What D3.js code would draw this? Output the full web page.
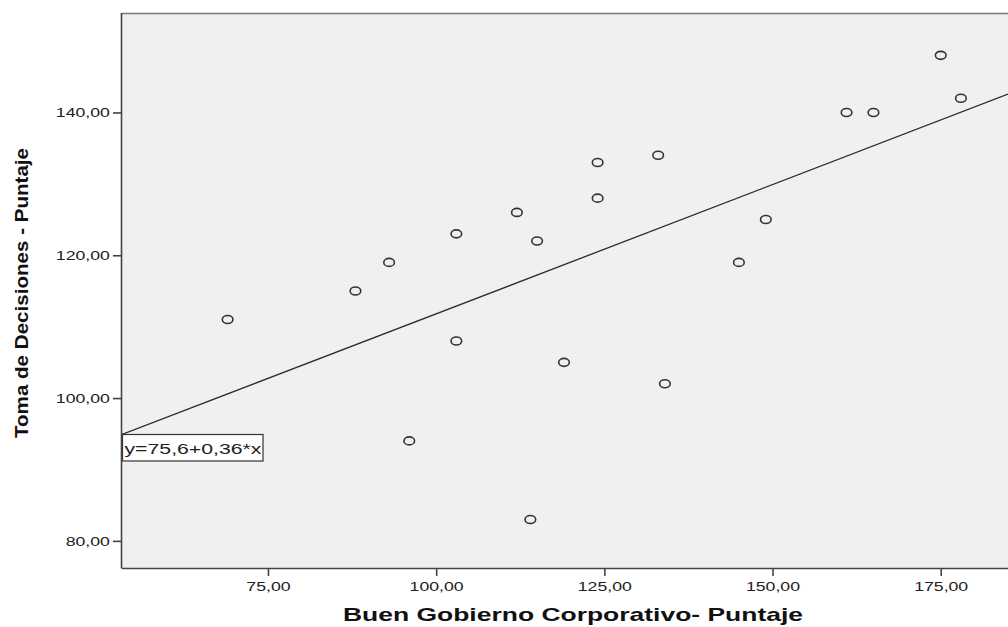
<!DOCTYPE html>
<html>
<head>
<meta charset="utf-8">
<script src="https://cdn.jsdelivr.net/npm/d3@7"></script>
<style>
  html, body { margin: 0; padding: 0; background: #fff; }
  svg { display: block; font-family: "Liberation Sans", Arial, sans-serif; }
  .stretch { transform-box: fill-box; transform: scaleX(1.36); }
</style>
</head>
<body>
<svg id="chart" width="1008" height="627"></svg>
<script>
// Data
const gobierno = [69, 88, 93, 96, 103, 103, 112, 114, 115, 119, 124, 124, 133, 134, 145, 149, 161, 165, 175, 178];
const decisiones = [111, 115, 119, 94, 123, 108, 126, 83, 122, 105, 133, 128, 134, 102, 119, 125, 140, 140, 148, 142];
const xTicks = [75, 100, 125, 150, 175];
const yTicks = [80, 100, 120, 140];
const xTitle = "Buen Gobierno Corporativo- Puntaje";
const yTitle = "Toma de Decisiones - Puntaje";
const equationLabel = "y=75,6+0,36*x";

const W = 1008, H = 627;
const plot = { left: 122, top: 13, right: 1008, bottom: 568 };

const svg = d3.select("#chart");
const x = d3.scaleLinear().domain([53.3, 185.0]).range([plot.left, plot.right]);
const y = d3.scaleLinear().domain([76.2, 153.93]).range([plot.bottom, plot.top]);
const fmt = d => d3.format(".2f")(d).replace(".", ",");

// plot background
svg.append("rect")
  .attr("x", plot.left).attr("y", plot.top)
  .attr("width", plot.right - plot.left + 5).attr("height", plot.bottom - plot.top)
  .attr("fill", "#f0f0f0");
// top border
svg.append("line")
  .attr("x1", plot.left).attr("x2", W).attr("y1", plot.top + 0.5).attr("y2", plot.top + 0.5)
  .attr("stroke", "#7a7a7a").attr("stroke-width", 1.5);

svg.append("clipPath").attr("id", "clip").append("rect")
  .attr("x", plot.left).attr("y", plot.top)
  .attr("width", plot.right - plot.left).attr("height", plot.bottom - plot.top);

// regression line computed from data
const n = gobierno.length;
const mx = d3.mean(gobierno), my = d3.mean(decisiones);
let sxy = 0, sxx = 0;
for (let i = 0; i < n; i++) { sxy += (gobierno[i] - mx) * (decisiones[i] - my); sxx += (gobierno[i] - mx) ** 2; }
const slope = sxy / sxx, intercept = my - slope * mx;
const xd = x.domain();
svg.append("line")
  .attr("clip-path", "url(#clip)")
  .attr("x1", x(xd[0])).attr("y1", y(intercept + slope * xd[0]))
  .attr("x2", x(xd[1])).attr("y2", y(intercept + slope * xd[1]))
  .attr("stroke", "#2a2a2a").attr("stroke-width", 1.3);

// points
svg.append("g").selectAll("ellipse")
  .data(gobierno.map((g, i) => [g, decisiones[i]]))
  .join("ellipse")
  .attr("cx", d => x(d[0])).attr("cy", d => y(d[1]))
  .attr("rx", 5.3).attr("ry", 4)
  .attr("fill", "none").attr("stroke", "#333").attr("stroke-width", 1.6);

// equation label box
const eqG = svg.append("g");
eqG.append("rect")
  .attr("x", plot.left + 0.5).attr("y", 434.5).attr("width", 140.5).attr("height", 26.5)
  .attr("fill", "#fff").attr("stroke", "#333").attr("stroke-width", 1.2);
eqG.append("text")
  .attr("x", plot.left + 2.5).attr("y", 454)
  .attr("font-size", 15).attr("fill", "#222")
  .attr("textLength", 137).attr("lengthAdjust", "spacingAndGlyphs")
  .text(equationLabel);

// axes
const xAxis = svg.append("g").attr("transform", `translate(0,${plot.bottom})`)
  .call(d3.axisBottom(x).tickValues(xTicks).tickFormat(fmt).tickSize(8).tickPadding(6));
xAxis.select(".domain").attr("d", `M${plot.left},0.5H${W}`).attr("stroke", "#444").attr("stroke-width", 1.6);
xAxis.selectAll(".tick line").attr("stroke", "#444").attr("stroke-width", 1.6);
xAxis.selectAll(".tick text")
  .attr("font-size", 13).attr("fill", "#222").attr("font-family", "Liberation Sans, Arial, sans-serif")
  .attr("class", "stretch").style("transform-origin", "center");

const yAxis = svg.append("g").attr("transform", `translate(${plot.left},0)`)
  .call(d3.axisLeft(y).tickValues(yTicks).tickFormat(fmt).tickSize(9).tickPadding(3));
yAxis.select(".domain").attr("d", `M-0.5,${plot.top}V${plot.bottom + 0.5}`).attr("stroke", "#444").attr("stroke-width", 1.6);
yAxis.selectAll(".tick line").attr("stroke", "#444").attr("stroke-width", 1.6);
yAxis.selectAll(".tick text")
  .attr("font-size", 13).attr("fill", "#222").attr("font-family", "Liberation Sans, Arial, sans-serif")
  .attr("class", "stretch").style("transform-origin", "right center");

// titles
svg.append("text")
  .attr("x", 573).attr("y", 621).attr("text-anchor", "middle")
  .attr("font-size", 18.5).attr("font-weight", "bold").attr("fill", "#111")
  .attr("textLength", 460).attr("lengthAdjust", "spacingAndGlyphs")
  .text(xTitle);
svg.append("text")
  .attr("transform", "translate(28,293) rotate(-90)")
  .attr("text-anchor", "middle")
  .attr("font-size", 19).attr("font-weight", "bold").attr("fill", "#111")
  .attr("textLength", 290).attr("lengthAdjust", "spacingAndGlyphs")
  .text(yTitle);
</script>
</body>
</html>
